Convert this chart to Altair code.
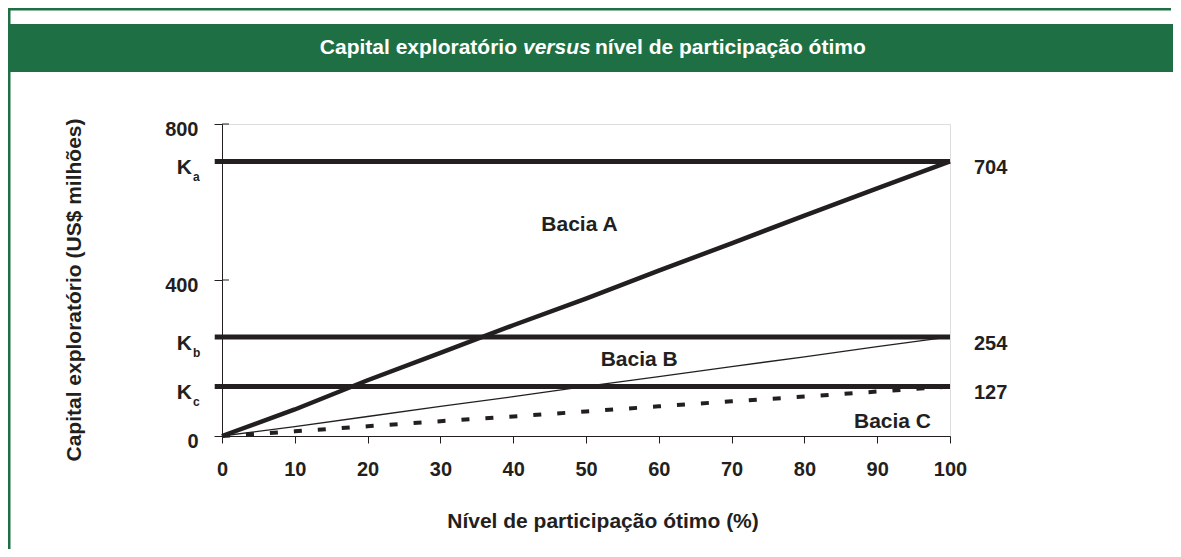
import altair as alt
import pandas as pd

# ---- data ----
x_pct = [0, 10, 20, 30, 40, 50, 60, 70, 80, 90, 100]
bacia_a = [0, 68, 143, 213, 284, 352, 424, 494, 565, 635, 704]
bacia_b = [0, 24, 50, 76, 101, 127, 152, 178, 203, 229, 254]
bacia_c = [0, 12, 25, 38, 50, 63, 76, 89, 101, 114, 127]

k_names = ["K", "K", "K"]
k_subs = ["a", "b", "c"]
k_values = [704, 254, 127]
k_right_labels = ["704", "254", "127"]
k_x_start = [-1, -1, -1]
k_x_end = [100, 100, 100]

bacia_names = ["Bacia A", "Bacia B", "Bacia C"]
bacia_lab_x = [49.1, 57.3, 92.1]
bacia_lab_y = [540, 194, 35]

x_ticks = [0, 10, 20, 30, 40, 50, 60, 70, 80, 90, 100]
y_ticks = [0, 400, 800]

title_parts = ["Capital exploratório", "versus", "nível de participação ótimo"]
x_title = "Nível de participação ótimo (%)"
y_title = "Capital exploratório (US$ milhões)"

FONT = "Liberation Sans"
INK = "#231f20"
GREEN = "#1e7044"
FS = 21

W, H = 728, 312
PAD_L, PAD_T, PAD_R, PAD_B = 214, 116, 223, 113

curves = pd.DataFrame({
    "x": x_pct * 3,
    "y": bacia_a + bacia_b + bacia_c,
    "serie": ["A"] * 11 + ["B"] * 11 + ["C"] * 11,
})
kdf = pd.DataFrame({"k": k_names, "sub": k_subs, "v": k_values,
                    "r": k_right_labels, "x0": k_x_start, "x1": k_x_end})
labdf = pd.DataFrame({"t": bacia_names, "x": bacia_lab_x, "y": bacia_lab_y})

xs = alt.Scale(domain=[0, 100], nice=False, zero=False)
ys = alt.Scale(domain=[0, 800], nice=False)

base_axes = alt.Chart(curves).mark_point(opacity=0).encode(
    x=alt.X("x:Q", scale=xs, axis=alt.Axis(
        values=x_ticks, title=None, grid=False, domainColor=INK, tickColor=INK,
        tickSize=7, labelPadding=16, labelFont=FONT, labelFontSize=20,
        labelFontWeight="bold", labelColor=INK, labelFlush=False)),
    y=alt.Y("y:Q", scale=ys, axis=alt.Axis(
        values=y_ticks, title=None, grid=False, domainColor=INK, tickColor=INK,
        tickSize=8, labelPadding=16, labelFont=FONT, labelFontSize=20,
        labelFontWeight="bold", labelColor=INK, labelFlush=False, labelOffset=5)),
)

line_a = alt.Chart(curves).transform_filter("datum.serie == 'A'").mark_line(
    color=INK, strokeWidth=4.5).encode(x=alt.X("x:Q", scale=xs), y=alt.Y("y:Q", scale=ys))
line_b = alt.Chart(curves).transform_filter("datum.serie == 'B'").mark_line(
    color=INK, strokeWidth=1.3).encode(x=alt.X("x:Q", scale=xs), y=alt.Y("y:Q", scale=ys))
line_c = alt.Chart(curves).transform_filter("datum.serie == 'C'").mark_line(
    color=INK, strokeWidth=4, strokeDash=[8, 16]).encode(
    x=alt.X("x:Q", scale=xs), y=alt.Y("y:Q", scale=ys))

krules = alt.Chart(kdf).mark_rule(color=INK, strokeWidth=5).encode(
    x=alt.X("x0:Q", scale=xs), x2="x1:Q", y=alt.Y("v:Q", scale=ys))

inner_ticks = alt.Chart(pd.DataFrame({"v": y_ticks})).mark_rule(
    color=INK, strokeWidth=1).encode(
    x=alt.value(0), x2=alt.value(7), y=alt.Y("v:Q", scale=ys))

k_text = alt.Chart(kdf).mark_text(
    font=FONT, fontSize=21, fontWeight="bold", color=INK, align="right",
    baseline="middle", dy=7).encode(
    x=alt.value(-30), y=alt.Y("v:Q", scale=ys), text="k:N")
k_sub = alt.Chart(kdf).mark_text(
    font=FONT, fontSize=12, fontWeight="bold", color=INK, align="left",
    baseline="middle", dy=16).encode(
    x=alt.value(-29), y=alt.Y("v:Q", scale=ys), text="sub:N")
k_right = alt.Chart(kdf).mark_text(
    font=FONT, fontSize=20, fontWeight="bold", color=INK, align="left",
    baseline="middle", dy=7).encode(
    x=alt.value(752), y=alt.Y("v:Q", scale=ys), text="r:N")

bacia_text = alt.Chart(labdf).mark_text(
    font=FONT, fontSize=FS, fontWeight="bold", color=INK, align="center",
    baseline="middle").encode(
    x=alt.X("x:Q", scale=xs), y=alt.Y("y:Q", scale=ys), text="t:N")

# ---- decoration: frame and title bar ----
deco = pd.DataFrame({"d": [0]})
title_bar = alt.Chart(deco).mark_rect(color=GREEN).encode(
    x=alt.value(-PAD_L), x2=alt.value(W + PAD_R), y=alt.value(-100), y2=alt.value(-52))
frame_top = alt.Chart(deco).mark_rule(color=GREEN, strokeWidth=3).encode(
    x=alt.value(-PAD_L), x2=alt.value(W + PAD_R - 2), y=alt.value(-115))
frame_left = alt.Chart(deco).mark_rule(color=GREEN, strokeWidth=3).encode(
    x=alt.value(-PAD_L + 1), y=alt.value(-116), y2=alt.value(H + PAD_B))

t1 = alt.Chart(deco).mark_text(font=FONT, fontSize=FS, fontWeight="bold", color="white",
                               align="right", baseline="middle").encode(
    x=alt.value(295), y=alt.value(-76), text=alt.value(title_parts[0]))
t2 = alt.Chart(deco).mark_text(font=FONT, fontSize=FS, fontWeight="bold", fontStyle="italic",
                               color="white", align="left", baseline="middle").encode(
    x=alt.value(301), y=alt.value(-76), text=alt.value(title_parts[1]))
t3 = alt.Chart(deco).mark_text(font=FONT, fontSize=FS, fontWeight="bold", color="white",
                               align="left", baseline="middle").encode(
    x=alt.value(373), y=alt.value(-76), text=alt.value(title_parts[2]))

xt = alt.Chart(deco).mark_text(font=FONT, fontSize=FS, fontWeight="bold", color=INK,
                               align="center", baseline="middle").encode(
    x=alt.value(381), y=alt.value(398), text=alt.value(x_title))
yt = alt.Chart(deco).mark_text(font=FONT, fontSize=FS, fontWeight="bold", color=INK,
                               align="center", baseline="middle", angle=270).encode(
    x=alt.value(-147), y=alt.value(166), text=alt.value(y_title))

chart = alt.layer(
    title_bar, frame_top, frame_left, t1, t2, t3,
    base_axes, krules, line_b, line_c, line_a, inner_ticks,
    k_text, k_sub, k_right, bacia_text, xt, yt,
).properties(
    width=W, height=H,
    autosize=alt.AutoSizeParams(type="none"),
    padding={"left": PAD_L, "top": PAD_T, "right": PAD_R, "bottom": PAD_B},
).configure_view(stroke=INK, strokeWidth=1).configure(background="white")

chart.save("out.html", embed_options={"renderer": "svg", "actions": False})
